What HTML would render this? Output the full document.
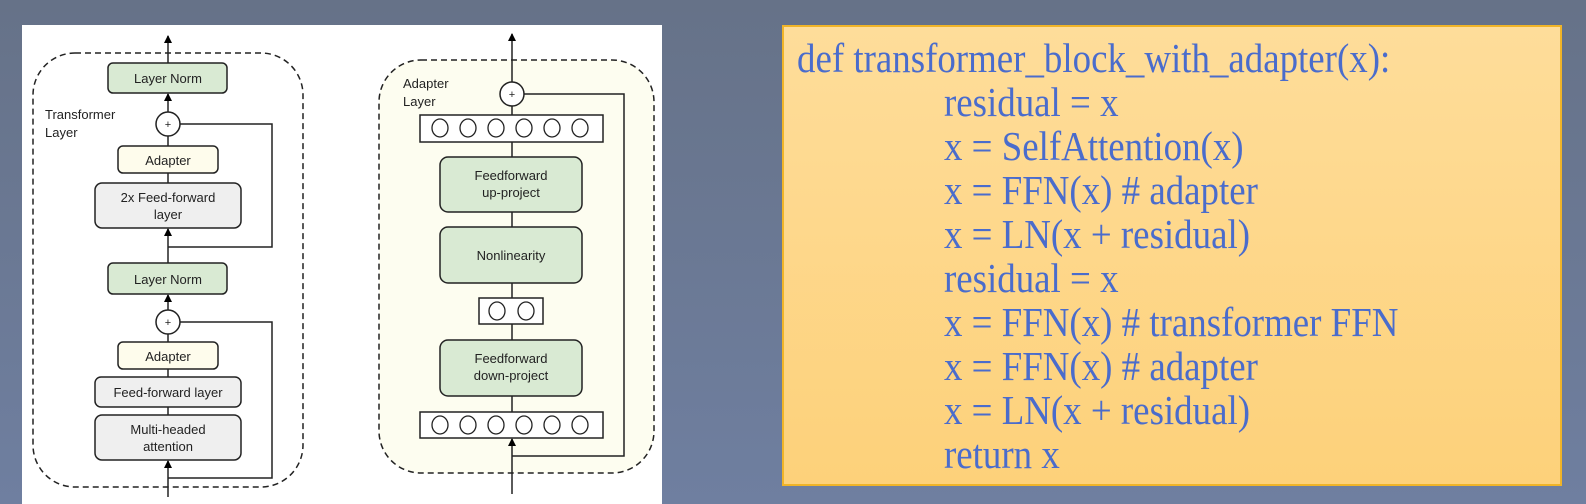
<!DOCTYPE html>
<html><head><style>
html,body{margin:0;padding:0}
body{width:1586px;height:504px;overflow:hidden;background:linear-gradient(#667288,#6f7fa0);position:relative;font-family:"Liberation Sans",sans-serif}
#panel{position:absolute;left:22px;top:25px;width:640px;height:479px;background:#fff}
#code{position:absolute;left:782px;top:25px;width:780px;height:461px;box-sizing:border-box;border:2px solid #f0b428;background:linear-gradient(#fedd9a,#fdd17a)}
.l{position:absolute;font-family:"Liberation Serif",serif;font-size:41px;color:#4a6ccc;white-space:pre;line-height:1;transform:scaleX(0.9);transform-origin:0 0}
</style></head><body>
<div id="panel"></div>
<svg style="position:absolute;left:0;top:0" width="680" height="504" font-family="Liberation Sans, sans-serif" font-size="13" text-anchor="middle">
<defs><marker id="a" markerWidth="8" markerHeight="8" refX="7" refY="4" orient="auto" markerUnits="userSpaceOnUse"><path d="M0,0 L8,4 L0,8 z" fill="#000"/></marker></defs>
<g stroke="#222" stroke-width="1.5" fill="none">
<rect x="33" y="53" width="270" height="434" rx="42" stroke-dasharray="6,4"/>
<rect x="379" y="60" width="275" height="413" rx="42" stroke-dasharray="6,4" fill="#fdfdf0"/>
<line x1="168" y1="63" x2="168" y2="36" marker-end="url(#a)"/>
<line x1="168" y1="112" x2="168" y2="94" marker-end="url(#a)"/>
<polyline points="180,124 272,124 272,247 168,247"/>
<line x1="168" y1="136" x2="168" y2="146"/>
<line x1="168" y1="173" x2="168" y2="183"/>
<line x1="168" y1="263" x2="168" y2="229" marker-end="url(#a)"/>
<line x1="168" y1="310" x2="168" y2="295" marker-end="url(#a)"/>
<polyline points="180,322 272,322 272,478 168,478"/>
<line x1="168" y1="334" x2="168" y2="342"/>
<line x1="168" y1="369" x2="168" y2="377"/>
<line x1="168" y1="407" x2="168" y2="415"/>
<line x1="168" y1="497" x2="168" y2="461" marker-end="url(#a)"/>
<line x1="512" y1="82" x2="512" y2="34" marker-end="url(#a)"/>
<polyline points="524,94 624,94 624,456 512,456"/>
<line x1="512" y1="106" x2="512" y2="115"/>
<line x1="512" y1="142" x2="512" y2="157"/>
<line x1="512" y1="212" x2="512" y2="227"/>
<line x1="512" y1="283" x2="512" y2="298"/>
<line x1="512" y1="324" x2="512" y2="340"/>
<line x1="512" y1="396" x2="512" y2="412"/>
<line x1="512" y1="494" x2="512" y2="439" marker-end="url(#a)"/>
<rect x="108" y="63" width="119" height="30" rx="5" fill="#d9ead3"/>
<circle cx="168" cy="124" r="12" fill="#fff"/>
<rect x="118" y="146" width="100" height="27" rx="5" fill="#fefcec"/>
<rect x="95" y="183" width="146" height="45" rx="7" fill="#efefef"/>
<rect x="108" y="263" width="119" height="31" rx="5" fill="#d9ead3"/>
<circle cx="168" cy="322" r="12" fill="#fff"/>
<rect x="118" y="342" width="100" height="27" rx="5" fill="#fefcec"/>
<rect x="95" y="377" width="146" height="30" rx="6" fill="#efefef"/>
<rect x="95" y="415" width="146" height="45" rx="7" fill="#efefef"/>
<circle cx="512" cy="94" r="12" fill="#fff"/>
<rect x="420" y="115" width="183" height="27" fill="#fff"/>
<rect x="440" y="157" width="142" height="55" rx="8" fill="#d9ead3"/>
<rect x="440" y="227" width="142" height="56" rx="8" fill="#d9ead3"/>
<rect x="479" y="298" width="64" height="26" fill="#fff"/>
<rect x="440" y="340" width="142" height="56" rx="8" fill="#d9ead3"/>
<rect x="420" y="412" width="183" height="26" fill="#fff"/>
<g stroke-width="1.3">
<ellipse cx="440" cy="128" rx="8" ry="9"/><ellipse cx="468" cy="128" rx="8" ry="9"/><ellipse cx="496" cy="128" rx="8" ry="9"/><ellipse cx="524" cy="128" rx="8" ry="9"/><ellipse cx="552" cy="128" rx="8" ry="9"/><ellipse cx="580" cy="128" rx="8" ry="9"/>
<ellipse cx="440" cy="425" rx="8" ry="9"/><ellipse cx="468" cy="425" rx="8" ry="9"/><ellipse cx="496" cy="425" rx="8" ry="9"/><ellipse cx="524" cy="425" rx="8" ry="9"/><ellipse cx="552" cy="425" rx="8" ry="9"/><ellipse cx="580" cy="425" rx="8" ry="9"/>
<ellipse cx="497" cy="311" rx="8" ry="9"/><ellipse cx="526" cy="311" rx="8" ry="9"/>
</g>
</g>
<g fill="#222">
<text x="168" y="83">Layer Norm</text>
<text x="168" y="128" font-size="11">+</text>
<text x="168" y="165">Adapter</text>
<text x="168" y="202">2x Feed-forward</text>
<text x="168" y="219">layer</text>
<text x="168" y="284">Layer Norm</text>
<text x="168" y="326" font-size="11">+</text>
<text x="168" y="361">Adapter</text>
<text x="168" y="397">Feed-forward layer</text>
<text x="168" y="434">Multi-headed</text>
<text x="168" y="451">attention</text>
<text x="45" y="119" text-anchor="start">Transformer</text>
<text x="45" y="137" text-anchor="start">Layer</text>
<text x="512" y="98" font-size="11">+</text>
<text x="403" y="88" text-anchor="start">Adapter</text>
<text x="403" y="106" text-anchor="start">Layer</text>
<text x="511" y="180">Feedforward</text>
<text x="511" y="197">up-project</text>
<text x="511" y="260">Nonlinearity</text>
<text x="511" y="363">Feedforward</text>
<text x="511" y="380">down-project</text>
</g>
</svg>
<div id="code"></div>
<div class="l" style="left:797px;top:38px">def transformer_block_with_adapter(x):</div>
<div class="l" style="left:944px;top:82px">residual = x</div>
<div class="l" style="left:944px;top:126px">x = SelfAttention(x)</div>
<div class="l" style="left:944px;top:170px">x = FFN(x) # adapter</div>
<div class="l" style="left:944px;top:214px">x = LN(x + residual)</div>
<div class="l" style="left:944px;top:258px">residual = x</div>
<div class="l" style="left:944px;top:302px">x = FFN(x) # transformer FFN</div>
<div class="l" style="left:944px;top:346px">x = FFN(x) # adapter</div>
<div class="l" style="left:944px;top:390px">x = LN(x + residual)</div>
<div class="l" style="left:944px;top:434px">return x</div>
</body></html>
